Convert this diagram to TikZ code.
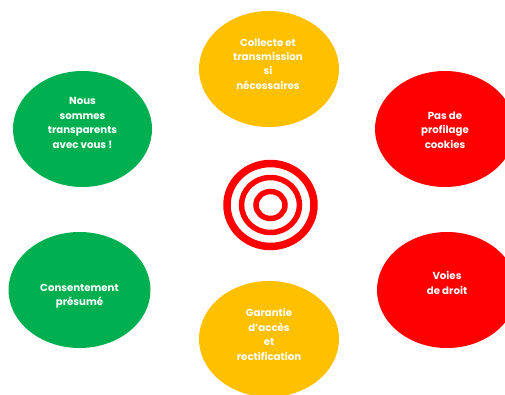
\documentclass[tikz,border=0pt]{standalone}
\usepackage{fontspec}
\setmainfont{Poppins}
\usetikzlibrary{shapes.geometric}
\definecolor{vert}{RGB}{0,176,80}
\definecolor{ambre}{RGB}{255,192,0}
\definecolor{rouge}{RGB}{255,0,0}
\begin{document}
\begin{tikzpicture}[
        x=1pt, y=-1pt,
        bulle/.style={ellipse, inner sep=0pt, minimum width=140pt, minimum height=116pt},
        texte/.style={text=white, align=center, font=\fontsize{10.2}{14.4}\selectfont\bfseries},
        anneau/.style={draw=rouge}
    ]
        % Cadre
        \useasboundingbox (0,0) rectangle (505,394);
        \clip (0,0) rectangle (505,394);

        % Bulles
        \node[bulle, fill=ambre] (collecte) at (269,69) {};
        \node[bulle, fill=rouge] (profilage) at (445,129) {};
        \node[bulle, fill=rouge] (voies) at (447,290) {};
        \node[bulle, fill=ambre] (garantie) at (269,339) {};
        \node[bulle, fill=vert, minimum width=142pt] (consentement) at (79.5,290) {};
        \node[bulle, fill=vert, minimum width=139pt] (transparents) at (82.5,129) {};

        % Textes
        \node[texte] (tcollecte) at ([xshift=-1pt,yshift=5pt]collecte) {Collecte et\\transmission\\si\\nécessaires};
        \node[texte] (tprofilage) at ([yshift=-1pt]profilage) {Pas de\\profilage\\cookies};
        \node[texte] (tvoies) at ([yshift=7pt]voies) {Voies\\de droit};
        \node[texte] (tgarantie) at ([yshift=4.5pt]garantie) {Garantie\\d'accès\\et\\rectification};
        \node[texte] (tconsentement) at ([yshift=-6.5pt]consentement) {Consentement\\présumé};
        \node[texte] (ttransparents) at ([yshift=6pt]transparents) {Nous\\sommes\\transparents\\avec vous !};

        % Cible
        \draw[anneau, line width=7.5pt] (270.5,205) ellipse (43.5 and 41.5);
        \draw[anneau, line width=5.5pt] (270.5,205) ellipse (29 and 27.5);
        \draw[anneau, line width=5.5pt] (270.5,205) ellipse (14.5 and 13.5);
\end{tikzpicture}
\end{document}
